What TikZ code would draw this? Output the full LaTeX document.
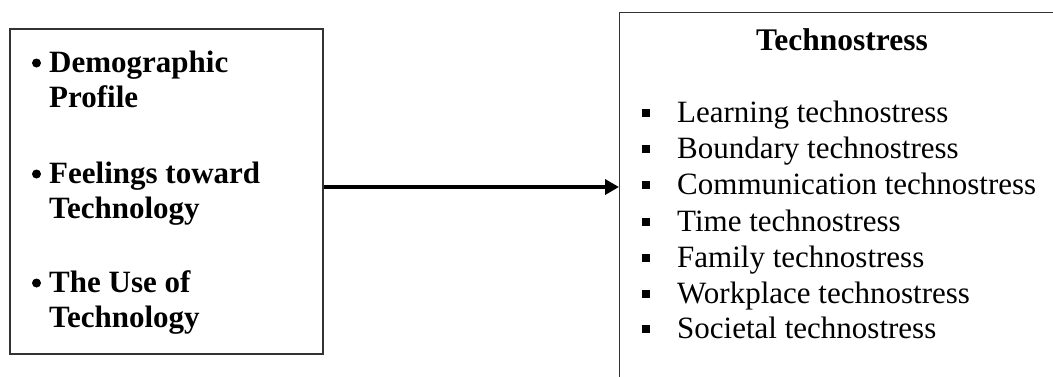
\documentclass[tikz,border=0pt]{standalone}
\usepackage{fontspec}
\setmainfont{Liberation Serif}
\usetikzlibrary{arrows.meta}
\begin{document}
\begin{tikzpicture}[x=1pt,y=-1pt,
  boxline/.style={draw=black!80,line width=1.4pt},
  lefttxt/.style={anchor=base west,inner sep=0pt,font=\fontsize{31}{35}\selectfont\bfseries},
  righttxt/.style={anchor=base west,inner sep=0pt,font=\fontsize{31}{36}\selectfont},
  dotbullet/.style={circle,fill=black,inner sep=0pt,minimum size=9pt},
  sqbullet/.style={rectangle,fill=black,inner sep=0pt,minimum size=7.5pt},
  flow/.style={line width=4pt,-{Triangle[length=14pt,width=15pt]}}]
\useasboundingbox (0,0) rectangle (1053,376);
\clip (0,0) rectangle (1053,376);
% left box
\node[boxline,rectangle,minimum width=313pt,minimum height=325pt,inner sep=0pt] (left) at (166.5,191.5) {};
% right box (cut off by the picture's edges)
\node[boxline,rectangle,minimum width=460pt,minimum height=420pt,inner sep=0pt,anchor=north west] (right) at (619,12) {};
% left texts
\node[dotbullet] (b1) at (36.5,63) {};
\node[lefttxt] (t1) at (49,72) {Demographic};
\node[lefttxt] (t1b) at (49,107) {Profile};
\node[dotbullet] (b2) at (36.5,174) {};
\node[lefttxt] (t2) at (49,183) {Feelings toward};
\node[lefttxt] (t2b) at (49,218) {Technology};
\node[dotbullet] (b3) at (36.5,283) {};
\node[lefttxt] (t3) at (49,292) {The Use of};
\node[lefttxt] (t3b) at (49,327) {Technology};
% right texts
\node[anchor=base,inner sep=0pt,font=\fontsize{31.5}{35}\selectfont\bfseries] (title) at (842,50) {Technostress};
\foreach \i/\t/\y in {1/Learning technostress/122,2/Boundary technostress/158,3/Communication technostress/194,4/Time technostress/231,5/Family technostress/267,6/Workplace technostress/303,7/Societal technostress/338}{
  \node[sqbullet] (s\i) at (646,\y-9) {};
  \node[righttxt] (r\i) at (677,\y) {\t};
}
% arrow
\draw[flow] (left.east |- 0,187) -- (right.west |- 0,187);
\end{tikzpicture}
\end{document}
